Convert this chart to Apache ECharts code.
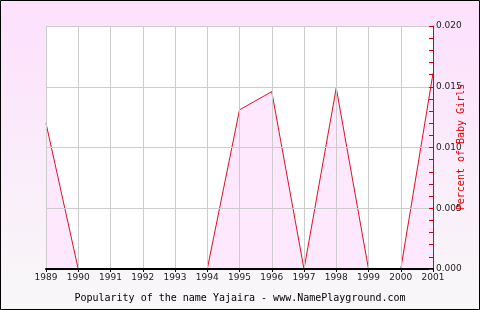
<!DOCTYPE html>
<html><head><meta charset="utf-8">
<script src="https://cdn.jsdelivr.net/npm/echarts@6/dist/echarts.min.js"></script>
<style>html,body{margin:0;padding:0;}#c{width:480px;height:310px;}</style>
</head><body><div id="c"></div>
<script>
var years = ['1989','1990','1991','1992','1993','1994','1995','1996','1997','1998','1999','2000','2001'];
var percents = [0.0120, 0, 0, 0, 0, 0, 0.0131, 0.0146, 0, 0.0149, 0, 0, 0.0161];
var yTicks = {min: 0, max: 0.020, step: 0.005};
var titleText = 'Popularity of the name Yajaira - www.NamePlayground.com';
var yName = 'Percent of Baby Girls';

var chart = echarts.init(document.getElementById('c'), null, {renderer: 'canvas'});
chart.setOption({
  animation: false,
  backgroundColor: new echarts.graphic.LinearGradient(0, 0, 0, 1, [
    {offset: 0, color: '#fde0fd'}, {offset: 1, color: '#f8f8f8'}
  ]),
  title: {
    text: titleText, left: 'center', top: 288,
    textStyle: {fontFamily: 'DejaVu Sans Mono', fontSize: 10, fontWeight: 'normal', color: '#000'}
  },
  grid: {left: 46, right: 47, top: 26, bottom: 41, show: true, backgroundColor: '#ffffff', borderWidth: 0,
    containLabel: false, outerBoundsMode: 'none'},
  xAxis: {
    type: 'category', data: years, boundaryGap: false, z: 5,
    axisLine: {lineStyle: {color: '#000', width: 2}},
    axisTick: {show: true, length: 3, lineStyle: {color: '#000'}},
    axisLabel: {color: '#222', fontSize: 9, fontFamily: 'DejaVu Sans', margin: 4},
    splitLine: {show: true, lineStyle: {color: '#cccccc', width: 1}}
  },
  yAxis: {
    type: 'value', position: 'right', min: yTicks.min, max: yTicks.max, interval: yTicks.step, z: 5,
    axisLine: {show: true, lineStyle: {color: '#dd0000', width: 1}},
    axisTick: {show: true, inside: true, length: 4, lineStyle: {color: '#dd0000'}},
    minorTick: {show: true, splitNumber: 5, length: 4, lineStyle: {color: '#dd0000'}},
    axisLabel: {color: '#222', fontSize: 9, fontFamily: 'DejaVu Sans', margin: 3,
      formatter: function (v) { return v.toFixed(3); }},
    splitLine: {show: true, lineStyle: {color: '#cccccc', width: 1}}
  },
  series: [{
    type: 'line', data: percents, symbol: 'none',
    lineStyle: {color: '#dd1122', width: 1},
    areaStyle: {color: '#fde8fd', opacity: 1}
  }],
  graphic: [{
    type: 'text', x: 461, y: 147, rotation: Math.PI / 2, z: 50,
    style: {text: yName, fill: '#dd0000', font: '10px "DejaVu Sans Mono"', align: 'center', verticalAlign: 'middle'}
  }, {
    type: 'rect', shape: {x: 0.5, y: 0.5, width: 479, height: 309},
    style: {fill: 'none', stroke: '#000', lineWidth: 1}, silent: true, z: 100
  }]
});
</script></body></html>
